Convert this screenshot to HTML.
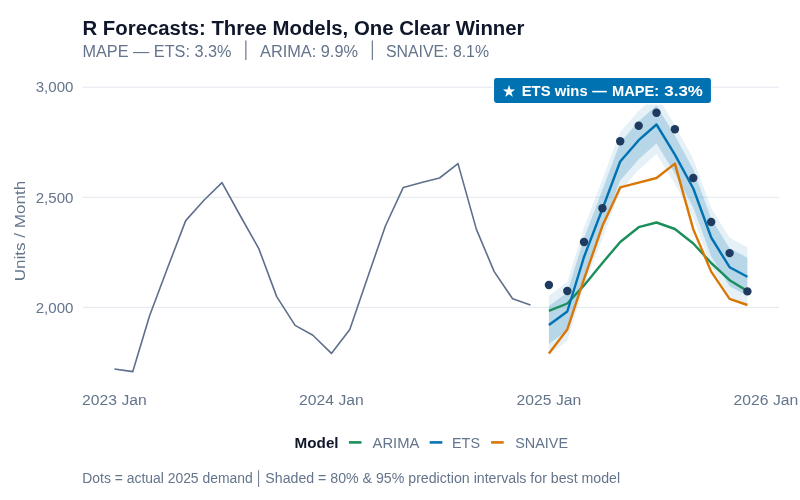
<!DOCTYPE html><html><head><meta charset="utf-8"><title>R Forecasts</title><style>html,body{margin:0;padding:0;background:#fff}svg{display:block}</style></head><body><svg width="800" height="500" viewBox="0 0 800 500" font-family="Liberation Sans, sans-serif">
<rect width="800" height="500" fill="#fff"/>
<text x="82.5" y="34.8" font-size="20.3" fill="#0F172A" text-anchor="start" font-weight="bold" textLength="442" lengthAdjust="spacingAndGlyphs" >R Forecasts: Three Models, One Clear Winner</text>
<text x="82.5" y="57" font-size="16" fill="#64748B" text-anchor="start" font-weight="normal" textLength="149" lengthAdjust="spacingAndGlyphs" >MAPE — ETS: 3.3%</text>
<text x="260" y="57" font-size="16" fill="#64748B" text-anchor="start" font-weight="normal" textLength="98" lengthAdjust="spacingAndGlyphs" >ARIMA: 9.9%</text>
<text x="386" y="57" font-size="16" fill="#64748B" text-anchor="start" font-weight="normal" textLength="103" lengthAdjust="spacingAndGlyphs" >SNAIVE: 8.1%</text>
<text x="246.6" y="55.2" font-size="16" fill="#64748B" text-anchor="middle">│</text>
<text x="372.9" y="55.2" font-size="16" fill="#64748B" text-anchor="middle">│</text>
<line x1="82.7" x2="779.2" y1="87.2" y2="87.2" stroke="#E2E8F0" stroke-width="1"/>
<line x1="82.7" x2="779.2" y1="197.25" y2="197.25" stroke="#E2E8F0" stroke-width="1"/>
<line x1="82.7" x2="779.2" y1="307.3" y2="307.3" stroke="#E2E8F0" stroke-width="1"/>
<text x="73.4" y="92.4" font-size="15.5" fill="#64748B" text-anchor="end" font-weight="normal" textLength="37.7" lengthAdjust="spacingAndGlyphs" >3,000</text>
<text x="73.4" y="202.5" font-size="15.5" fill="#64748B" text-anchor="end" font-weight="normal" textLength="37.7" lengthAdjust="spacingAndGlyphs" >2,500</text>
<text x="73.4" y="312.59999999999997" font-size="15.5" fill="#64748B" text-anchor="end" font-weight="normal" textLength="37.7" lengthAdjust="spacingAndGlyphs" >2,000</text>
<text x="114.4" y="404.6" font-size="15.5" fill="#64748B" text-anchor="middle" font-weight="normal" textLength="64.6" lengthAdjust="spacingAndGlyphs" >2023 Jan</text>
<text x="331.4" y="404.6" font-size="15.5" fill="#64748B" text-anchor="middle" font-weight="normal" textLength="64.6" lengthAdjust="spacingAndGlyphs" >2024 Jan</text>
<text x="548.9" y="404.6" font-size="15.5" fill="#64748B" text-anchor="middle" font-weight="normal" textLength="64.6" lengthAdjust="spacingAndGlyphs" >2025 Jan</text>
<text x="765.9" y="404.6" font-size="15.5" fill="#64748B" text-anchor="middle" font-weight="normal" textLength="64.6" lengthAdjust="spacingAndGlyphs" >2026 Jan</text>
<text transform="translate(25,231) rotate(-90)" font-size="15.5" fill="#64748B" text-anchor="middle" textLength="100.5" lengthAdjust="spacingAndGlyphs">Units / Month</text>
<polyline points="114.4,369.0 132.8,371.6 149.5,316.0 167.9,267.0 185.7,220.6 204.2,200.0 222.0,182.6 240.4,216.0 258.8,248.6 276.7,296.6 295.1,325.4 312.9,335.2 331.4,353.4 349.8,329.4 367.0,279.2 385.4,226.0 403.3,187.4 421.7,182.6 439.5,178.0 458.0,163.6 476.4,229.4 494.2,271.6 512.6,298.8 530.5,305.0" fill="none" stroke="#5E6F8C" stroke-width="1.6" stroke-linejoin="round"/>
<polygon points="548.9,295.5 567.3,282.0 584.0,227.5 602.4,179.5 620.2,132.0 638.7,110.7 656.5,95.0 674.9,125.1 693.3,159.0 711.2,208.0 729.6,237.7 747.4,247.2 747.4,306.2 729.6,296.7 711.2,267.0 693.3,218.0 674.9,184.1 656.5,154.0 638.7,169.7 620.2,191.0 602.4,238.5 584.0,286.5 567.3,341.0 548.9,354.5" fill="#0072B2" fill-opacity="0.10"/>
<polygon points="548.9,306.0 567.3,292.5 584.0,238.0 602.4,190.0 620.2,142.5 638.7,121.2 656.5,105.5 674.9,135.6 693.3,169.5 711.2,218.5 729.6,248.2 747.4,257.7 747.4,295.7 729.6,286.2 711.2,256.5 693.3,207.5 674.9,173.6 656.5,143.5 638.7,159.2 620.2,180.5 602.4,228.0 584.0,276.0 567.3,330.5 548.9,344.0" fill="#0072B2" fill-opacity="0.20"/>
<polyline points="548.9,310.8 567.3,303.5 584.0,285.4 602.4,263.0 620.2,242.0 638.7,227.2 656.5,222.5 674.9,229.0 693.3,243.5 711.2,263.0 729.6,280.2 747.4,291.0" fill="none" stroke="#1A8F5A" stroke-width="2.4" stroke-linejoin="round"/>
<polyline points="548.9,325.0 567.3,311.5 584.0,257.0 602.4,209.0 620.2,161.5 638.7,140.2 656.5,124.5 674.9,154.6 693.3,188.5 711.2,237.5 729.6,267.2 747.4,276.7" fill="none" stroke="#0072B2" stroke-width="2.4" stroke-linejoin="round"/>
<polyline points="548.9,353.4 567.3,329.4 584.0,279.2 602.4,226.0 620.2,187.4 638.7,182.6 656.5,178.0 674.9,163.6 693.3,229.4 711.2,271.6 729.6,298.8 747.4,305.0" fill="none" stroke="#D97706" stroke-width="2.4" stroke-linejoin="round"/>
<circle cx="548.9" cy="285.0" r="4.2" fill="#1E3A5F"/>
<circle cx="567.3" cy="291.0" r="4.2" fill="#1E3A5F"/>
<circle cx="584.0" cy="242.0" r="4.2" fill="#1E3A5F"/>
<circle cx="602.4" cy="208.2" r="4.2" fill="#1E3A5F"/>
<circle cx="620.2" cy="141.2" r="4.2" fill="#1E3A5F"/>
<circle cx="638.7" cy="125.7" r="4.2" fill="#1E3A5F"/>
<circle cx="656.5" cy="112.8" r="4.2" fill="#1E3A5F"/>
<circle cx="674.9" cy="129.2" r="4.2" fill="#1E3A5F"/>
<circle cx="693.3" cy="178.0" r="4.2" fill="#1E3A5F"/>
<circle cx="711.2" cy="222.0" r="4.2" fill="#1E3A5F"/>
<circle cx="729.6" cy="253.1" r="4.2" fill="#1E3A5F"/>
<circle cx="747.4" cy="291.4" r="4.2" fill="#1E3A5F"/>
<rect x="493.3" y="77.2" width="218.4" height="26.5" rx="3.2" fill="#0072B2" stroke="#fff" stroke-width="1.5"/>
<text x="502.5" y="95.9" font-size="14.2" fill="#fff" text-anchor="start" font-weight="bold" textLength="12.5" lengthAdjust="spacingAndGlyphs" >★</text>
<text x="521.7" y="95.5" font-size="15.3" fill="#fff" text-anchor="start" font-weight="bold" textLength="66" lengthAdjust="spacingAndGlyphs" >ETS wins</text>
<text x="592.2" y="95.5" font-size="15.3" fill="#fff" text-anchor="start" font-weight="bold" textLength="14.6" lengthAdjust="spacingAndGlyphs" >—</text>
<text x="612" y="95.5" font-size="15.3" fill="#fff" text-anchor="start" font-weight="bold" textLength="47.2" lengthAdjust="spacingAndGlyphs" >MAPE:</text>
<text x="664.3" y="95.5" font-size="15.3" fill="#fff" text-anchor="start" font-weight="bold" textLength="38.6" lengthAdjust="spacingAndGlyphs" >3.3%</text>
<text x="294.6" y="448" font-size="15.5" fill="#0F172A" text-anchor="start" font-weight="bold" textLength="44" lengthAdjust="spacingAndGlyphs" >Model</text>
<line x1="348.9" x2="361.5" y1="442.4" y2="442.4" stroke="#1A8F5A" stroke-width="2.6"/>
<text x="372.6" y="448" font-size="15.5" fill="#64748B" text-anchor="start" font-weight="normal" textLength="46.8" lengthAdjust="spacingAndGlyphs" >ARIMA</text>
<line x1="429.7" x2="442.3" y1="442.4" y2="442.4" stroke="#0072B2" stroke-width="2.6"/>
<text x="452" y="448" font-size="15.5" fill="#64748B" text-anchor="start" font-weight="normal" textLength="28" lengthAdjust="spacingAndGlyphs" >ETS</text>
<line x1="491.1" x2="503.70000000000005" y1="442.4" y2="442.4" stroke="#D97706" stroke-width="2.6"/>
<text x="515.2" y="448" font-size="15.5" fill="#64748B" text-anchor="start" font-weight="normal" textLength="52.8" lengthAdjust="spacingAndGlyphs" >SNAIVE</text>
<text x="82.3" y="483" font-size="13.8" fill="#64748B" text-anchor="start" font-weight="normal" textLength="170.4" lengthAdjust="spacingAndGlyphs" >Dots = actual 2025 demand</text>
<text x="259.4" y="482.5" font-size="13.8" fill="#64748B" text-anchor="middle">│</text>
<text x="265.3" y="483" font-size="13.8" fill="#64748B" text-anchor="start" font-weight="normal" textLength="354.8" lengthAdjust="spacingAndGlyphs" >Shaded = 80% &amp; 95% prediction intervals for best model</text>
</svg></body></html>
